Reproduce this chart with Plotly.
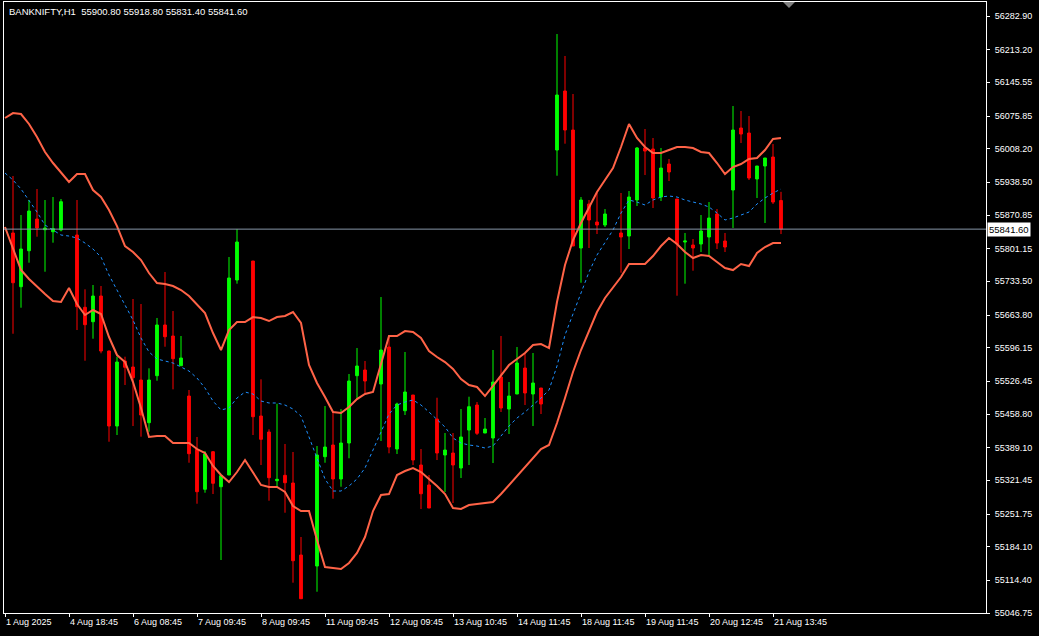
import plotly.graph_objects as go

# ---------------- data (BANKNIFTY H1) ----------------
symbol_title = "BANKNIFTY,H1  55900.80 55918.80 55831.40 55841.60"
last_price = 55841.60

bar_index = list(range(98))

open_ = [None, 55833.6, 55722.4, 55796.9, 55862.5, 55840.4, 55836.2, 55839.8, None, 55829.4,
         55679.7, 55649.9, 55703.1, 55589.2, 55433.9, 55568.5, 55556.1, 55529.2, 55440.8, 55538.1,
         55643.1, 55620.3, 55558.8, 55496.0, 55385.7, 55302.9, 55380.7, 55308.2, 55332.5, 55736.2,
         None, 55775.6, 55454.6, 55421.5, 55320.7, 55331.8, 55315.9, 55166.8, None, 55144.0,
         55370.4, 55394.6, 55324.2, 55398.7, 55538.1, 55549.9, None, 55520.9, 55597.5, 55386.3,
         55465.6, 55498.1, 55353.2, 55311.8, 55448.4, 55373.9, 55378.0, 55347.0, 55425.6, 55477.4,
         55419.4, 55409.1, 55535.4, 55469.1, 55500.2, 55554.0, 55500.2, 55512.6, None, 56005.4,
         56127.6, 56046.8, 55802.5, 55893.6, 55856.3, 55850.1, None, 55833.6, 55827.3, 55901.9,
         56009.6, 56007.5, 55908.1, 55976.4, 55904.0, 55814.9, 55808.7, 55810.8, 55825.3, 55872.9,
         55817.0, 55922.6, 56051.0, 56040.6, 55945.4, 55972.3, 55990.9, 55900.8]
high_ = [None, 55951.6, 55870.8, 55901.9, 55924.7, 55901.9, 55908.1, 55904.0, None, 55901.9,
         55717.0, 55725.9, 55723.8, 55590.0, 55577.4, 55577.4, 55696.9, 55686.5, 55553.4, 55657.6,
         55752.8, 55672.0, 55620.3, 55508.5, 55411.2, 55382.2, 55382.2, 55331.0, 55783.9, 55841.8,
         None, 55775.6, 55530.6, 55427.1, 55480.1, 55396.7, 55380.1, 55204.1, None, 55392.5,
         55475.3, 55465.0, 55469.1, 55541.6, 55595.4, 55568.5, None, 55701.0, 55622.4, 55482.2,
         55587.2, 55498.1, 55386.3, 55332.5, 55492.5, 55419.4, 55419.4, 55469.1, 55494.6, 55483.6,
         55450.5, 55591.3, 55620.3, 55525.0, 55597.5, 55583.0, 55585.1, 55512.6, None, 56245.6,
         56200.1, 56121.4, 55908.1, 55901.9, 55916.4, 55883.2, None, 55916.4, 55920.5, 56011.6,
         56048.9, 56030.3, 56009.6, 55986.8, 55904.0, 55833.6, 55821.1, 55870.8, 55897.7, 55883.2,
         55833.6, 56096.5, 56086.2, 56075.8, 55972.3, 55988.9, 56017.8, 55918.8]
low_ = [None, 55625.0, 55678.9, 55772.1, 55825.9, 55753.4, 55813.5, 55837.0, None, 55632.7,
        55569.1, 55614.7, 55584.5, 55401.4, 55415.3, 55518.8, 55433.9, 55411.8, 55422.1, 55527.7,
        55598.1, 55509.9, 55558.8, 55357.9, 55273.0, 55295.8, 55293.1, 55156.5, 55332.5, 55728.6,
        None, 55415.3, 55353.2, 55279.3, 55308.2, 55254.4, 55109.5, 55076.3, None, 55090.8,
        55357.9, 55283.4, 55308.2, 55367.1, 55489.8, 55501.6, None, 55402.9, 55377.4, 55376.0,
        55456.7, 55353.2, 55262.1, 55264.1, 55363.5, 55297.3, 55274.5, 55326.3, 55353.2, 55415.3,
        55419.4, 55357.3, 55462.9, 55417.4, 55500.2, 55477.4, 55433.9, 55458.8, None, 55952.2,
        56018.5, 55806.6, 55730.6, 55802.5, 55831.5, 55846.0, None, 55751.4, 55800.4, 55889.5,
        55953.6, 55885.3, 55899.8, 55941.2, 55703.7, 55728.6, 55755.5, 55794.2, 55788.0, 55800.4,
        55794.2, 55843.9, 56019.9, 55943.3, 55906.0, 55854.3, 55893.6, 55831.4]
close_ = [None, 55730.6, 55800.4, 55879.1, 55843.9, 55843.9, 55842.5, 55898.4, None, 55681.0,
          55643.7, 55703.1, 55589.2, 55433.9, 55566.4, 55555.5, 55533.9, 55456.7, 55529.2, 55643.1,
          55618.8, 55573.3, 55574.7, 55376.6, 55297.9, 55376.0, 55315.3, 55331.0, 55740.4, 55814.9,
          None, 55453.2, 55406.4, 55326.9, 55323.6, 55316.5, 55155.0, 55076.3, None, 55373.9,
          55390.4, 55324.2, 55398.7, 55527.1, 55558.2, 55527.1, None, 55591.3, 55390.4, 55479.5,
          55504.3, 55363.5, 55293.7, 55264.1, 55378.0, 55384.2, 55353.2, 55411.2, 55473.9, 55418.8,
          55427.7, 55525.0, 55471.2, 55496.0, 55564.4, 55502.3, 55523.0, 55479.5, None, 56119.3,
          56046.8, 55806.6, 55901.9, 55860.5, 55850.1, 55872.9, None, 55825.3, 55908.1, 56009.6,
          56003.3, 55906.0, 55968.1, 55959.9, 55810.8, 55817.0, 55802.5, 55837.7, 55864.6, 55812.8,
          55804.6, 56046.8, 56038.5, 55947.4, 55972.3, 55988.9, 55897.7, 55841.6]

# Bollinger bands
bb_upper = [56071.7, 56082.0, 56080.0, 56059.3, 56032.3, 56001.3, 55978.5, 55957.8, 55939.2, 55955.7,
            55955.7, 55922.6, 55908.1, 55881.2, 55848.0, 55806.6, 55794.2, 55777.6, 55750.7, 55730.0,
            55728.0, 55723.8, 55715.5, 55703.1, 55686.5, 55667.9, 55626.5, 55591.3, 55632.7, 55649.3,
            55649.3, 55659.6, 55657.6, 55651.3, 55659.6, 55661.7, 55670.0, 55647.2, 55560.2, 55523.0,
            55494.0, 55462.9, 55460.8, 55473.3, 55489.8, 55500.2, 55504.3, 55564.4, 55620.3, 55620.3,
            55630.6, 55628.6, 55616.1, 55589.2, 55576.8, 55566.4, 55552.0, 55531.2, 55518.8, 55514.7,
            55496.0, 55516.8, 55537.5, 55560.2, 55572.7, 55585.1, 55601.6, 55603.7, 55595.4, 55690.7,
            55767.3, 55819.1, 55854.3, 55887.4, 55918.4, 55943.3, 55968.1, 56011.6, 56059.3, 56030.3,
            56011.6, 55999.2, 55999.2, 56005.4, 56011.6, 56011.6, 56009.6, 56001.3, 55999.2, 55978.5,
            55955.7, 55970.2, 55976.4, 55986.8, 55988.9, 56005.4, 56028.2, 56030.3]
bb_middle = [55957.8, 55943.3, 55924.7, 55901.9, 55877.0, 55850.1, 55839.8, 55829.4, 55827.3, 55823.2,
             55812.8, 55800.4, 55783.9, 55746.6, 55715.5, 55684.5, 55653.4, 55616.1, 55587.2, 55572.7,
             55568.5, 55564.4, 55556.1, 55547.8, 55533.3, 55512.6, 55485.7, 55467.1, 55471.2, 55491.9,
             55504.3, 55500.2, 55485.7, 55481.6, 55481.6, 55477.4, 55469.1, 55454.6, 55411.2, 55367.7,
             55324.2, 55299.3, 55299.3, 55309.7, 55324.2, 55347.0, 55384.2, 55421.5, 55458.8, 55477.4,
             55483.6, 55487.8, 55477.4, 55462.9, 55446.4, 55431.9, 55409.1, 55398.7, 55394.6, 55392.5,
             55388.4, 55392.5, 55413.2, 55433.9, 55450.5, 55462.9, 55477.4, 55491.9, 55508.5, 55558.2,
             55622.4, 55665.8, 55709.3, 55752.8, 55788.0, 55812.8, 55839.8, 55875.0, 55901.9, 55897.7,
             55891.5, 55901.9, 55908.1, 55910.2, 55908.1, 55901.9, 55897.7, 55893.6, 55887.4, 55875.0,
             55860.5, 55864.6, 55870.8, 55877.0, 55893.6, 55906.0, 55916.4, 55924.7]
bb_lower = [55846.0, 55800.4, 55756.9, 55738.3, 55721.7, 55707.2, 55692.8, 55690.7, 55719.7, 55686.5,
            55663.8, 55674.1, 55665.8, 55618.2, 55580.9, 55566.4, 55525.0, 55471.2, 55411.2, 55413.2,
            55413.2, 55398.7, 55398.7, 55398.7, 55386.3, 55378.0, 55351.1, 55332.5, 55318.0, 55338.7,
            55363.5, 55338.7, 55311.8, 55307.6, 55307.6, 55297.3, 55268.3, 55257.9, 55257.9, 55197.9,
            55142.0, 55139.9, 55137.8, 55150.3, 55171.0, 55204.1, 55257.9, 55291.1, 55293.1, 55332.5,
            55340.8, 55347.0, 55338.7, 55324.2, 55309.7, 55293.1, 55264.1, 55262.1, 55270.4, 55272.4,
            55274.5, 55276.6, 55293.1, 55311.8, 55330.4, 55351.1, 55369.7, 55386.3, 55394.6, 55440.1,
            55491.9, 55545.7, 55591.3, 55632.7, 55670.0, 55699.0, 55719.7, 55742.4, 55769.4, 55769.4,
            55769.4, 55785.9, 55806.6, 55823.2, 55810.8, 55794.2, 55781.8, 55788.0, 55785.9, 55773.5,
            55761.1, 55756.9, 55769.4, 55765.2, 55792.1, 55804.6, 55812.8, 55812.8]

time_labels = ["1 Aug 2025", "4 Aug 18:45", "6 Aug 08:45", "7 Aug 09:45", "8 Aug 09:45",
               "11 Aug 09:45", "12 Aug 09:45", "13 Aug 10:45", "14 Aug 11:45", "18 Aug 11:45",
               "19 Aug 11:45", "20 Aug 12:45", "21 Aug 13:45"]
label_step = 8

price_ticks = [56282.90, 56213.20, 56145.55, 56075.85, 56008.20, 55938.50, 55870.85, 55801.15,
               55733.50, 55663.80, 55596.15, 55526.45, 55458.80, 55389.10, 55321.45, 55251.75,
               55184.10, 55114.40, 55046.75]

# ---------------- figure ----------------
FONT = "Liberation Sans"
fig = go.Figure()

fig.add_trace(go.Candlestick(
    x=bar_index, open=open_, high=high_, low=low_, close=close_,
    increasing=dict(line=dict(color="#00FF00", width=1), fillcolor="#00FF00"),
    decreasing=dict(line=dict(color="#FF0000", width=1), fillcolor="#FF0000"),
    whiskerwidth=0, hoverinfo="skip", showlegend=False))

fig.add_trace(go.Scatter(x=bar_index, y=bb_middle, mode="lines",
                         line=dict(color="#1E90FF", width=1, dash="3px,3px"),
                         hoverinfo="skip", showlegend=False))
fig.add_trace(go.Scatter(x=bar_index, y=bb_upper, mode="lines",
                         line=dict(color="#FF6347", width=2),
                         hoverinfo="skip", showlegend=False))
fig.add_trace(go.Scatter(x=bar_index, y=bb_lower, mode="lines",
                         line=dict(color="#FF6347", width=2),
                         hoverinfo="skip", showlegend=False))

tick_pos = [i * label_step for i in range(len(time_labels))]

annotations = [
    dict(text=symbol_title, xref="paper", yref="paper", x=0.003, y=0.984,
         xanchor="left", yanchor="middle", showarrow=False,
         font=dict(family=FONT, size=9.5, color="#FFFFFF")),
    dict(text=f"{last_price:.2f}", xref="paper", yref="y", x=1, y=last_price,
         xanchor="left", yanchor="middle", xshift=1, showarrow=False,
         bgcolor="#FFFFFF", borderpad=1,
         font=dict(family=FONT, size=9.5, color="#000000")),
]
for p, t in zip(tick_pos, time_labels):
    annotations.append(dict(text=t, xref="x", yref="paper", x=p, y=0,
                            xanchor="left", yanchor="top", yshift=-2, xshift=-1,
                            showarrow=False,
                            font=dict(family=FONT, size=9, color="#FFFFFF")))

shapes = [
    dict(type="line", xref="paper", yref="y", x0=0, x1=1, y0=last_price, y1=last_price,
         line=dict(color="#8796A8", width=1), layer="above"),
    dict(type="path", xref="paper", yref="paper",
         path="M 0.7933 1 L 0.8055 1 L 0.7994 0.990 Z",
         fillcolor="#808080", line=dict(color="#808080", width=0)),
]

fig.update_layout(
    width=1039, height=636,
    margin=dict(l=4, r=53, t=2, b=23, pad=0),
    paper_bgcolor="#000000", plot_bgcolor="#000000",
    boxgap=0.5,
    annotations=annotations, shapes=shapes,
    xaxis=dict(range=[-0.125, 122.625], rangeslider=dict(visible=False),
               showgrid=False, zeroline=False, tickvals=tick_pos, ticktext=[""] * len(tick_pos),
               ticks="outside", ticklen=3, tickcolor="#FFFFFF", showticklabels=False,
               showline=True, linecolor="#FFFFFF", linewidth=1, mirror=True, fixedrange=True),
    yaxis=dict(range=[55046.75, 56311.9], side="right", showgrid=False, zeroline=False,
               tickvals=price_ticks, ticktext=[f"{v:.2f}" for v in price_ticks],
               ticks="outside", ticklen=3, tickcolor="#FFFFFF", ticklabelstandoff=3,
               tickfont=dict(family=FONT, size=9, color="#FFFFFF"),
               showline=True, linecolor="#FFFFFF", linewidth=1, mirror=True, fixedrange=True),
)

fig.write_html("out.html", config={"displayModeBar": False},
               post_script="document.body.style.margin='0';document.body.style.background='#000';")
